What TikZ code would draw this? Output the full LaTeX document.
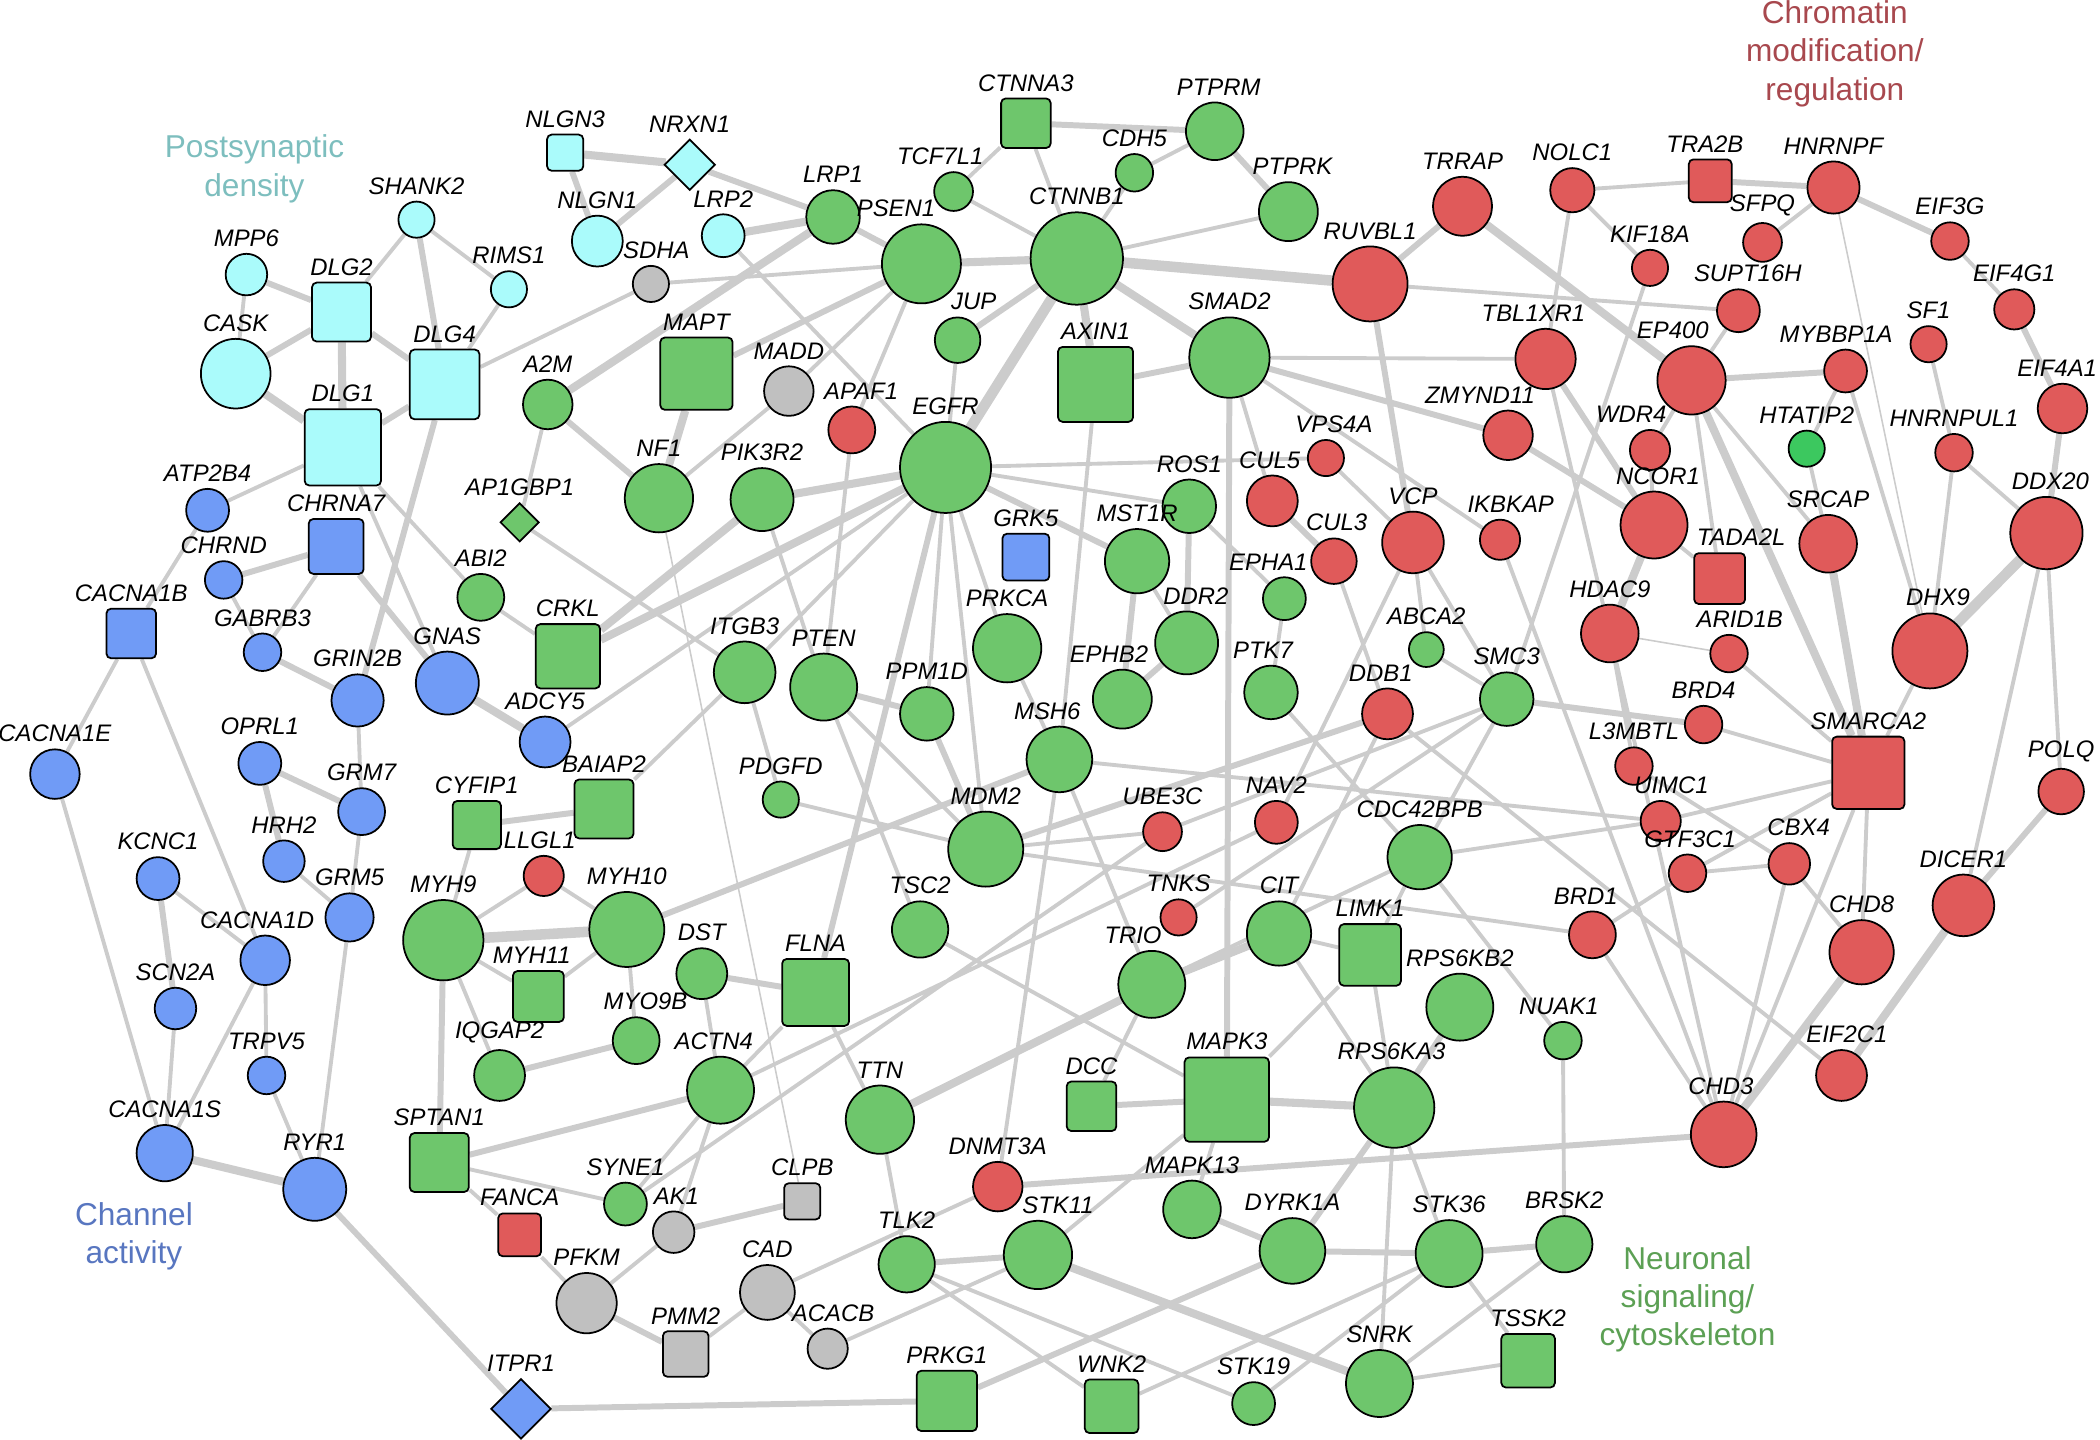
\documentclass[tikz,border=0pt]{standalone}
\usepackage{fontspec}
\setmainfont{Liberation Sans}
\usetikzlibrary{shapes.geometric}

\definecolor{cyn}{RGB}{170,251,251}
\definecolor{blu}{RGB}{112,155,246}
\definecolor{grn}{RGB}{110,198,108}
\definecolor{brg}{RGB}{60,200,95}
\definecolor{rd}{RGB}{224,90,90}
\definecolor{gry}{RGB}{192,192,192}
\definecolor{edg}{RGB}{204,204,204}
\definecolor{tpsd}{RGB}{125,190,190}
\definecolor{tchr}{RGB}{168,72,78}
\definecolor{tcha}{RGB}{88,118,192}
\definecolor{tneu}{RGB}{92,160,84}

\newcommand{\upx}{0.013393cm}
\pgfdeclarelayer{bg}
\pgfsetlayers{bg,main}

\begin{document}
\begin{tikzpicture}[x=\upx,y=-\upx,label distance=1.2pt]
\tikzstyle{gene}=[draw,line width=0.5pt,inner sep=0pt]
\tikzstyle{cir}=[gene,circle]
\tikzstyle{sqr}=[gene,rectangle,rounded corners=1.3pt]
\tikzstyle{dia}=[gene,diamond,aspect=1]
\tikzstyle{psd}=[fill=cyn]
\tikzstyle{cha}=[fill=blu]
\tikzstyle{neu}=[fill=grn]
\tikzstyle{chr}=[fill=rd]
\tikzstyle{oth}=[fill=gry]
\tikzstyle{lab}=[font=\fontsize{6.8}{8}\selectfont\itshape,inner sep=0.4pt]
\tikzstyle{grp}=[font=\fontsize{9}{10.9}\selectfont,align=center,inner sep=0pt]
\tikzstyle{e0}=[draw=edg,line width=0.45pt]
\tikzstyle{e1}=[draw=edg,line width=1.1pt]
\tikzstyle{e2}=[draw=edg,line width=1.7pt]
\tikzstyle{e3}=[draw=edg,line width=2.3pt]
\tikzstyle{e4}=[draw=edg,line width=3pt]

\useasboundingbox (0,0) rectangle (1568,1075);

% group titles
\node [grp,text=tpsd] (tpsd) at (190,126) {Postsynaptic\\density};
\node [grp,text=tchr] (tchr) at (1370,40) {Chromatin\\modification/\\regulation};
\node [grp,text=tcha] (tcha) at (100,923) {Channel\\activity};
\node [grp,text=tneu] (tneu) at (1260,970) {Neuronal\\signaling/\\cytoskeleton};

% postsynaptic density
\node [sqr,psd,minimum size=27*\upx,label={[lab]above:NLGN3}] (NLGN3) at (422,114) {};
\node [dia,psd,minimum size=38*\upx,label={[lab]above:NRXN1}] (NRXN1) at (515,123) {};
\node [cir,psd,minimum size=38*\upx,label={[lab]above:NLGN1}] (NLGN1) at (446,180) {};
\node [cir,psd,minimum size=32*\upx,label={[lab]above:LRP2}] (LRP2) at (540,176) {};
\node [cir,psd,minimum size=27*\upx,label={[lab]above:SHANK2}] (SHANK2) at (311,164) {};
\node [cir,psd,minimum size=27*\upx,label={[lab]above:RIMS1}] (RIMS1) at (380,216) {};
\node [cir,psd,minimum size=31*\upx,label={[lab]above:MPP6}] (MPP6) at (184,205) {};
\node [sqr,psd,minimum size=44*\upx,label={[lab]above:DLG2}] (DLG2) at (255,233) {};
\node [cir,psd,minimum size=52*\upx,label={[lab]above:CASK}] (CASK) at (176,279) {};
\node [sqr,psd,minimum size=52*\upx,label={[lab]above:DLG4}] (DLG4) at (332,287) {};
\node [sqr,psd,minimum size=57*\upx,label={[lab]above:DLG1}] (DLG1) at (256,334) {};

% other
\node [cir,oth,minimum size=27*\upx,label={[lab,xshift=4*\upx]above:SDHA}] (SDHA) at (486,212) {};
\node [cir,oth,minimum size=37*\upx,label={[lab]above:MADD}] (MADD) at (589,292) {};
\node [cir,oth,minimum size=31*\upx,label={[lab,xshift=2*\upx]above:AK1}] (AK1) at (503,920) {};
\node [sqr,oth,minimum size=27*\upx,label={[lab]above:CLPB}] (CLPB) at (599,897) {};
\node [cir,oth,minimum size=45*\upx,label={[lab]above:PFKM}] (PFKM) at (438,973) {};
\node [cir,oth,minimum size=41*\upx,label={[lab]above:CAD}] (CAD) at (573,965) {};
\node [sqr,oth,minimum size=34*\upx,label={[lab]above:PMM2}] (PMM2) at (512,1011) {};
\node [cir,oth,minimum size=30*\upx,label={[lab,xshift=4*\upx]above:ACACB}] (ACACB) at (618,1007) {};

% channel activity
\node [cir,cha,minimum size=32*\upx,label={[lab]above:ATP2B4}] (ATP2B4) at (155,381) {};
\node [sqr,cha,minimum size=41*\upx,label={[lab]above:CHRNA7}] (CHRNA7) at (251,408) {};
\node [cir,cha,minimum size=28*\upx,label={[lab]above:CHRND}] (CHRND) at (167,433) {};
\node [sqr,cha,minimum size=37*\upx,label={[lab]above:CACNA1B}] (CACNA1B) at (98,473) {};
\node [cir,cha,minimum size=28*\upx,label={[lab]above:GABRB3}] (GABRB3) at (196,487) {};
\node [cir,cha,minimum size=39*\upx,label={[lab]above:GRIN2B}] (GRIN2B) at (267,523) {};
\node [cir,cha,minimum size=47*\upx,label={[lab]above:GNAS}] (GNAS) at (334,510) {};
\node [cir,cha,minimum size=38*\upx,label={[lab]above:ADCY5}] (ADCY5) at (407,554) {};
\node [cir,cha,minimum size=37*\upx,label={[lab]above:CACNA1E}] (CACNA1E) at (41,578) {};
\node [cir,cha,minimum size=32*\upx,label={[lab]above:OPRL1}] (OPRL1) at (194,570) {};
\node [cir,cha,minimum size=35*\upx,label={[lab]above:GRM7}] (GRM7) at (270,606) {};
\node [cir,cha,minimum size=31*\upx,label={[lab]above:HRH2}] (HRH2) at (212,643) {};
\node [cir,cha,minimum size=32*\upx,label={[lab]above:KCNC1}] (KCNC1) at (118,656) {};
\node [cir,cha,minimum size=36*\upx,label={[lab]above:GRM5}] (GRM5) at (261,685) {};
\node [cir,cha,minimum size=37*\upx,label={[lab,xshift=-6*\upx]above:CACNA1D}] (CACNA1D) at (198,717) {};
\node [cir,cha,minimum size=31*\upx,label={[lab]above:SCN2A}] (SCN2A) at (131,753) {};
\node [cir,cha,minimum size=28*\upx,label={[lab]above:TRPV5}] (TRPV5) at (199,803) {};
\node [cir,cha,minimum size=42*\upx,label={[lab]above:CACNA1S}] (CACNA1S) at (123,861) {};
\node [cir,cha,minimum size=47*\upx,label={[lab]above:RYR1}] (RYR1) at (235,888) {};
\node [dia,cha,minimum size=45*\upx,label={[lab]above:ITPR1}] (ITPR1) at (389,1052) {};
\node [sqr,cha,minimum size=35*\upx,label={[lab]above:GRK5}] (GRK5) at (766,416) {};

% neuronal signalling / cytoskeleton
\node [sqr,neu,minimum size=37*\upx,label={[lab]above:CTNNA3}] (CTNNA3) at (766,92) {};
\node [cir,neu,minimum size=43*\upx,label={[lab,xshift=3*\upx]above:PTPRM}] (PTPRM) at (907,98) {};
\node [cir,neu,minimum size=28*\upx,label={[lab]above:CDH5}] (CDH5) at (847,129) {};
\node [cir,neu,minimum size=29*\upx,label={[lab,xshift=-10*\upx]above:TCF7L1}] (TCF7L1) at (712,143) {};
\node [cir,neu,minimum size=44*\upx,label={[lab,xshift=3*\upx]above:PTPRK}] (PTPRK) at (962,158) {};
\node [cir,neu,minimum size=40*\upx,label={[lab]above:LRP1}] (LRP1) at (622,162) {};
\node [cir,neu,minimum size=59*\upx,label={[lab,xshift=-19*\upx]above:PSEN1}] (PSEN1) at (688,197) {};
\node [cir,neu,minimum size=69*\upx,label={[lab]above:CTNNB1}] (CTNNB1) at (804,193) {};
\node [cir,neu,minimum size=34*\upx,label={[lab,xshift=12*\upx]above:JUP}] (JUP) at (715,254) {};
\node [sqr,neu,minimum size=54*\upx,label={[lab]above:MAPT}] (MAPT) at (520,279) {};
\node [cir,neu,minimum size=37*\upx,label={[lab]above:A2M}] (A2M) at (409,302) {};
\node [sqr,neu,minimum size=56*\upx,label={[lab]above:AXIN1}] (AXIN1) at (818,287) {};
\node [cir,neu,minimum size=60*\upx,label={[lab]above:SMAD2}] (SMAD2) at (918,267) {};
\node [cir,neu,minimum size=68*\upx,label={[lab]above:EGFR}] (EGFR) at (706,349) {};
\node [cir,neu,minimum size=51*\upx,label={[lab]above:NF1}] (NF1) at (492,372) {};
\node [cir,neu,minimum size=47*\upx,label={[lab]above:PIK3R2}] (PIK3R2) at (569,373) {};
\node [dia,neu,minimum size=29*\upx,label={[lab]above:AP1GBP1}] (AP1GBP1) at (388,390) {};
\node [cir,neu,minimum size=40*\upx,label={[lab]above:ROS1}] (ROS1) at (888,378) {};
\node [cir,neu,minimum size=35*\upx,label={[lab]above:ABI2}] (ABI2) at (359,446) {};
\node [sqr,neu,minimum size=48*\upx,label={[lab]above:CRKL}] (CRKL) at (424,490) {};
\node [cir,neu,minimum size=48*\upx,label={[lab]above:MST1R}] (MST1R) at (849,419) {};
\node [cir,neu,minimum size=51*\upx,label={[lab]above:PRKCA}] (PRKCA) at (752,484) {};
\node [cir,neu,minimum size=47*\upx,label={[lab,xshift=7*\upx]above:DDR2}] (DDR2) at (886,480) {};
\node [cir,neu,minimum size=32*\upx,label={[lab,xshift=-12*\upx]above:EPHA1}] (EPHA1) at (959,447) {};
\node [cir,neu,minimum size=44*\upx,label={[lab,xshift=-10*\upx]above:EPHB2}] (EPHB2) at (838,522) {};
\node [cir,neu,minimum size=40*\upx,label={[lab,xshift=-6*\upx]above:PTK7}] (PTK7) at (949,517) {};
\node [cir,neu,minimum size=46*\upx,label={[lab]above:ITGB3}] (ITGB3) at (556,502) {};
\node [cir,neu,minimum size=50*\upx,label={[lab]above:PTEN}] (PTEN) at (615,513) {};
\node [cir,neu,minimum size=40*\upx,label={[lab]above:PPM1D}] (PPM1D) at (692,533) {};
\node [cir,neu,minimum size=49*\upx,label={[lab,xshift=-9*\upx]above:MSH6}] (MSH6) at (791,567) {};
\node [cir,neu,minimum size=27*\upx,label={[lab]above:PDGFD}] (PDGFD) at (583,597) {};
\node [cir,neu,minimum size=56*\upx,label={[lab]above:MDM2}] (MDM2) at (736,634) {};
\node [sqr,neu,minimum size=36*\upx,label={[lab]above:CYFIP1}] (CYFIP1) at (356,616) {};
\node [sqr,neu,minimum size=44*\upx,label={[lab]above:BAIAP2}] (BAIAP2) at (451,604) {};
\node [cir,neu,minimum size=60*\upx,label={[lab]above:MYH9}] (MYH9) at (331,702) {};
\node [cir,neu,minimum size=56*\upx,label={[lab]above:MYH10}] (MYH10) at (468,694) {};
\node [sqr,neu,minimum size=38*\upx,label={[lab,xshift=-5*\upx]above:MYH11}] (MYH11) at (402,744) {};
\node [cir,neu,minimum size=38*\upx,label={[lab]above:DST}] (DST) at (524,727) {};
\node [sqr,neu,minimum size=50*\upx,label={[lab]above:FLNA}] (FLNA) at (609,741) {};
\node [cir,neu,minimum size=42*\upx,label={[lab]above:TSC2}] (TSC2) at (687,694) {};
\node [cir,neu,minimum size=35*\upx,label={[lab,xshift=7*\upx]above:MYO9B}] (MYO9B) at (475,777) {};
\node [cir,neu,minimum size=38*\upx,label={[lab]above:IQGAP2}] (IQGAP2) at (373,803) {};
\node [cir,neu,minimum size=50*\upx,label={[lab,xshift=-5*\upx]above:ACTN4}] (ACTN4) at (538,814) {};
\node [cir,neu,minimum size=51*\upx,label={[lab]above:TTN}] (TTN) at (657,836) {};
\node [sqr,neu,minimum size=44*\upx,label={[lab]above:SPTAN1}] (SPTAN1) at (328,868) {};
\node [cir,neu,minimum size=32*\upx,label={[lab]above:SYNE1}] (SYNE1) at (467,899) {};
\node [cir,neu,minimum size=50*\upx,label={[lab,xshift=-14*\upx]above:TRIO}] (TRIO) at (860,735) {};
\node [cir,neu,minimum size=48*\upx,label={[lab]above:CIT}] (CIT) at (955,697) {};
\node [sqr,neu,minimum size=46*\upx,label={[lab]above:LIMK1}] (LIMK1) at (1023,713) {};
\node [cir,neu,minimum size=48*\upx,label={[lab]above:CDC42BPB}] (CDC42BPB) at (1060,640) {};
\node [cir,neu,minimum size=50*\upx,label={[lab]above:RPS6KB2}] (RPS6KB2) at (1090,752) {};
\node [cir,neu,minimum size=28*\upx,label={[lab,xshift=-3*\upx]above:NUAK1}] (NUAK1) at (1167,777) {};
\node [cir,neu,minimum size=60*\upx,label={[lab,xshift=-2*\upx]above:RPS6KA3}] (RPS6KA3) at (1041,827) {};
\node [sqr,neu,minimum size=37*\upx,label={[lab]above:DCC}] (DCC) at (815,826) {};
\node [sqr,neu,minimum size=63*\upx,label={[lab]above:MAPK3}] (MAPK3) at (916,821) {};
\node [cir,neu,minimum size=43*\upx,label={[lab]above:MAPK13}] (MAPK13) at (890,903) {};
\node [cir,neu,minimum size=49*\upx,label={[lab]above:DYRK1A}] (DYRK1A) at (965,934) {};
\node [cir,neu,minimum size=50*\upx,label={[lab]above:STK36}] (STK36) at (1082,936) {};
\node [cir,neu,minimum size=42*\upx,label={[lab]above:BRSK2}] (BRSK2) at (1168,929) {};
\node [sqr,neu,minimum size=40*\upx,label={[lab]above:TSSK2}] (TSSK2) at (1141,1016) {};
\node [cir,neu,minimum size=50*\upx,label={[lab]above:SNRK}] (SNRK) at (1030,1033) {};
\node [cir,neu,minimum size=32*\upx,label={[lab]above:STK19}] (STK19) at (936,1048) {};
\node [sqr,neu,minimum size=40*\upx,label={[lab]above:WNK2}] (WNK2) at (830,1050) {};
\node [sqr,neu,minimum size=45*\upx,label={[lab]above:PRKG1}] (PRKG1) at (707,1046) {};
\node [cir,neu,minimum size=51*\upx,label={[lab,xshift=15*\upx]above:STK11}] (STK11) at (775,937) {};
\node [cir,neu,minimum size=42*\upx,label={[lab]above:TLK2}] (TLK2) at (677,944) {};
\node [cir,fill=brg,minimum size=27*\upx,label={[lab]above:HTATIP2}] (HTATIP2) at (1349,335) {};
\node [cir,neu,minimum size=26*\upx,label={[lab]above:ABCA2}] (ABCA2) at (1065,485) {};
\node [cir,neu,minimum size=40*\upx,label={[lab]above:SMC3}] (SMC3) at (1125,522) {};

% chromatin modification / regulation
\node [sqr,chr,minimum size=32*\upx,label={[lab]above:FANCA}] (FANCA) at (388,922) {};
\node [cir,chr,minimum size=30*\upx,label={[lab,xshift=-3*\upx]above:LLGL1}] (LLGL1) at (406,654) {};
\node [cir,chr,minimum size=37*\upx,label={[lab]above:DNMT3A}] (DNMT3A) at (745,886) {};
\node [cir,chr,minimum size=29*\upx,label={[lab]above:UBE3C}] (UBE3C) at (868,621) {};
\node [cir,chr,minimum size=32*\upx,label={[lab]above:NAV2}] (NAV2) at (953,614) {};
\node [cir,chr,minimum size=27*\upx,label={[lab]above:TNKS}] (TNKS) at (880,685) {};
\node [cir,chr,minimum size=35*\upx,label={[lab,xshift=7*\upx]above:APAF1}] (APAF1) at (636,321) {};
\node [cir,chr,minimum size=38*\upx,label={[lab,xshift=-2*\upx]above:CUL5}] (CUL5) at (950,374) {};
\node [cir,chr,minimum size=27*\upx,label={[lab,xshift=6*\upx]above:VPS4A}] (VPS4A) at (990,342) {};
\node [cir,chr,minimum size=34*\upx,label={[lab,xshift=2*\upx]above:CUL3}] (CUL3) at (996,419) {};
\node [cir,chr,minimum size=46*\upx,label={[lab]above:VCP}] (VCP) at (1055,405) {};
\node [cir,chr,minimum size=30*\upx,label={[lab,xshift=8*\upx]above:IKBKAP}] (IKBKAP) at (1120,403) {};
\node [cir,chr,minimum size=38*\upx,label={[lab,xshift=-5*\upx]above:DDB1}] (DDB1) at (1036,533) {};
\node [cir,chr,minimum size=56*\upx,label={[lab]above:RUVBL1}] (RUVBL1) at (1023,212) {};
\node [cir,chr,minimum size=44*\upx,label={[lab]above:TRRAP}] (TRRAP) at (1092,154) {};
\node [cir,chr,minimum size=33*\upx,label={[lab]above:NOLC1}] (NOLC1) at (1174,142) {};
\node [sqr,chr,minimum size=32*\upx,label={[lab,xshift=-4*\upx]above:TRA2B}] (TRA2B) at (1277,135) {};
\node [cir,chr,minimum size=39*\upx,label={[lab]above:HNRNPF}] (HNRNPF) at (1369,140) {};
\node [cir,chr,minimum size=29*\upx,label={[lab]above:SFPQ}] (SFPQ) at (1316,181) {};
\node [cir,chr,minimum size=27*\upx,label={[lab]above:KIF18A}] (KIF18A) at (1232,200) {};
\node [cir,chr,minimum size=28*\upx,label={[lab]above:EIF3G}] (EIF3G) at (1456,180) {};
\node [cir,chr,minimum size=32*\upx,label={[lab,xshift=7*\upx]above:SUPT16H}] (SUPT16H) at (1298,232) {};
\node [cir,chr,minimum size=30*\upx,label={[lab]above:EIF4G1}] (EIF4G1) at (1504,231) {};
\node [cir,chr,minimum size=45*\upx,label={[lab,xshift=-9*\upx]above:TBL1XR1}] (TBL1XR1) at (1154,268) {};
\node [cir,chr,minimum size=51*\upx,label={[lab,xshift=-14*\upx]above:EP400}] (EP400) at (1263,284) {};
\node [cir,chr,minimum size=27*\upx,label={[lab]above:SF1}] (SF1) at (1440,257) {};
\node [cir,chr,minimum size=32*\upx,label={[lab,xshift=-7*\upx]above:MYBBP1A}] (MYBBP1A) at (1378,277) {};
\node [cir,chr,minimum size=37*\upx,label={[lab,xshift=-4*\upx]above:EIF4A1}] (EIF4A1) at (1540,305) {};
\node [cir,chr,minimum size=37*\upx,label={[lab,xshift=-21*\upx]above:ZMYND11}] (ZMYND11) at (1126,325) {};
\node [cir,chr,minimum size=30*\upx,label={[lab,xshift=-14*\upx]above:WDR4}] (WDR4) at (1232,336) {};
\node [cir,chr,minimum size=28*\upx,label={[lab]above:HNRNPUL1}] (HNRNPUL1) at (1459,338) {};
\node [cir,chr,minimum size=50*\upx,label={[lab,xshift=3*\upx]above:NCOR1}] (NCOR1) at (1235,392) {};
\node [cir,chr,minimum size=43*\upx,label={[lab]above:SRCAP}] (SRCAP) at (1365,406) {};
\node [cir,chr,minimum size=54*\upx,label={[lab,xshift=3*\upx]above:DDX20}] (DDX20) at (1528,398) {};
\node [sqr,chr,minimum size=38*\upx,label={[lab,xshift=16*\upx]above:TADA2L}] (TADA2L) at (1284,432) {};
\node [cir,chr,minimum size=43*\upx,label={[lab]above:HDAC9}] (HDAC9) at (1202,473) {};
\node [cir,chr,minimum size=56*\upx,label={[lab,xshift=6*\upx]above:DHX9}] (DHX9) at (1441,486) {};
\node [cir,chr,minimum size=28*\upx,label={[lab,xshift=8*\upx]above:ARID1B}] (ARID1B) at (1291,488) {};
\node [cir,chr,minimum size=28*\upx,label={[lab]above:BRD4}] (BRD4) at (1272,541) {};
\node [sqr,chr,minimum size=54*\upx,label={[lab]above:SMARCA2}] (SMARCA2) at (1395,577) {};
\node [cir,chr,minimum size=28*\upx,label={[lab]above:L3MBTL}] (L3MBTL) at (1220,572) {};
\node [cir,chr,minimum size=30*\upx,label={[lab,xshift=8*\upx]above:UIMC1}] (UIMC1) at (1240,613) {};
\node [cir,chr,minimum size=34*\upx,label={[lab]above:POLQ}] (POLQ) at (1539,591) {};
\node [cir,chr,minimum size=28*\upx,label={[lab,xshift=2*\upx]above:GTF3C1}] (GTF3C1) at (1260,652) {};
\node [cir,chr,minimum size=31*\upx,label={[lab,xshift=7*\upx]above:CBX4}] (CBX4) at (1336,645) {};
\node [cir,chr,minimum size=35*\upx,label={[lab,xshift=-5*\upx]above:BRD1}] (BRD1) at (1189,698) {};
\node [cir,chr,minimum size=46*\upx,label={[lab]above:DICER1}] (DICER1) at (1466,676) {};
\node [cir,chr,minimum size=48*\upx,label={[lab]above:CHD8}] (CHD8) at (1390,711) {};
\node [cir,chr,minimum size=38*\upx,label={[lab,xshift=4*\upx]above:EIF2C1}] (EIF2C1) at (1375,803) {};
\node [cir,chr,minimum size=49*\upx,label={[lab,xshift=-2*\upx]above:CHD3}] (CHD3) at (1287,847) {};

% interactions
\begin{pgfonlayer}{bg}
\draw [e4] (CTNNB1) -- (EGFR) (CTNNB1) -- (RUVBL1) (MYH9) -- (MYH10) (DDX20) -- (DHX9);
\draw [e3] (PSEN1) -- (CTNNB1) (CTNNB1) -- (SMAD2) (CTNNB1) -- (AXIN1) (CACNA1S) -- (RYR1)
  (GNAS) -- (ADCY5) (CASK) -- (DLG1) (MAPK3) -- (RPS6KA3) (STK11) -- (SNRK)
  (PIK3R2) -- (EGFR) (CRKL) -- (EGFR) (CRKL) -- (PIK3R2) (NLGN3) -- (NRXN1)
  (LRP1) -- (LRP2) (A2M) -- (LRP1) (DICER1) -- (EIF2C1) (TRRAP) -- (EP400)
  (EP400) -- (SMARCA2) (TTN) -- (TRIO) (TRIO) -- (CIT) (MAPT) -- (NF1)
  (DLG2) -- (DLG1) (SRCAP) -- (SMARCA2) (CHD8) -- (CHD3) (NCOR1) -- (HDAC9);
\draw [e2] (NLGN3) -- (NLGN1) (NLGN1) -- (NRXN1) (NRXN1) -- (LRP1) (MPP6) -- (DLG2)
  (CASK) -- (DLG2) (DLG2) -- (DLG4) (DLG1) -- (DLG4) (DLG4) -- (GRIN2B) (SHANK2) -- (DLG4)
  (CHRNA7) -- (CHRND) (CHRNA7) -- (GNAS) (GABRB3) -- (GRIN2B) (GRM7) -- (OPRL1)
  (OPRL1) -- (HRH2) (KCNC1) -- (SCN2A) (RYR1) -- (ITPR1) (ITPR1) -- (PRKG1)
  (CTNNA3) -- (PTPRM) (PTPRM) -- (PTPRK) (LRP1) -- (PSEN1) (MAPT) -- (PSEN1)
  (CTNNB1) -- (JUP) (AXIN1) -- (SMAD2) (SMAD2) -- (ZMYND11) (SMAD2) -- (MAPK3)
  (RUVBL1) -- (TRRAP) (RUVBL1) -- (VCP) (A2M) -- (NF1) (MST1R) -- (EGFR)
  (MST1R) -- (EPHB2) (DDR2) -- (EPHB2) (ROS1) -- (DDR2) (CUL5) -- (CUL3)
  (PTEN) -- (PPM1D) (PPM1D) -- (MDM2) (MDM2) -- (DDB1) (MYH10) -- (MSH6)
  (CYFIP1) -- (BAIAP2) (SPTAN1) -- (MYH9) (SPTAN1) -- (ACTN4) (DST) -- (FLNA)
  (EGFR) -- (FLNA) (IQGAP2) -- (MYO9B) (AK1) -- (CLPB) (PFKM) -- (PMM2)
  (MAPK3) -- (DCC) (RPS6KA3) -- (RPS6KB2) (RPS6KA3) -- (DYRK1A) (DYRK1A) -- (MAPK13)
  (DYRK1A) -- (STK36) (DYRK1A) -- (PRKG1) (STK36) -- (BRSK2) (STK11) -- (TLK2)
  (DNMT3A) -- (CHD3) (TBL1XR1) -- (NCOR1) (ZMYND11) -- (NCOR1) (TRA2B) -- (HNRNPF)
  (HNRNPF) -- (EIF3G) (EIF4G1) -- (EIF4A1) (EIF4A1) -- (DDX20) (EP400) -- (MYBBP1A)
  (DICER1) -- (POLQ) (SMC3) -- (BRD4);
\draw [e1] (SHANK2) -- (DLG2) (SHANK2) -- (RIMS1) (RIMS1) -- (DLG4) (MPP6) -- (CASK)
  (DLG4) -- (SDHA) (DLG1) -- (ATP2B4) (DLG1) -- (GNAS) (SDHA) -- (PSEN1) (LRP2) -- (EGFR)
  (ATP2B4) -- (CACNA1B) (CHRNA7) -- (GABRB3) (CHRND) -- (GABRB3) (GRIN2B) -- (GRM7)
  (GRM7) -- (GRM5) (HRH2) -- (GRM5) (GRM5) -- (RYR1) (ADCY5) -- (EGFR)
  (CACNA1B) -- (CACNA1E) (CACNA1B) -- (CACNA1D) (CACNA1E) -- (CACNA1S) (KCNC1) -- (CACNA1D)
  (SCN2A) -- (CACNA1S) (CACNA1D) -- (CACNA1S) (CACNA1D) -- (TRPV5) (TRPV5) -- (RYR1)
  (DLG1) -- (ABI2) (ABI2) -- (CRKL) (A2M) -- (AP1GBP1) (AP1GBP1) -- (ITGB3)
  (NF1) -- (MADD) (MADD) -- (PSEN1) (PSEN1) -- (APAF1) (APAF1) -- (PTEN) (PIK3R2) -- (PTEN)
  (CTNNA3) -- (TCF7L1) (CTNNA3) -- (CTNNB1) (CDH5) -- (PTPRM) (CDH5) -- (CTNNB1)
  (PTPRK) -- (CTNNB1) (TCF7L1) -- (CTNNB1) (JUP) -- (EGFR)
  (SMAD2) -- (TBL1XR1) (SMAD2) -- (CUL5) (SMAD2) -- (IKBKAP) (AXIN1) -- (MSH6) (MSH6) -- (DNMT3A)
  (EGFR) -- (ROS1) (EGFR) -- (VPS4A) (EGFR) -- (PRKCA) (EGFR) -- (MDM2) (EGFR) -- (ITGB3)
  (EGFR) -- (PPM1D) (ROS1) -- (EPHA1) (MST1R) -- (DDR2) (EPHA1) -- (PTK7) (PTK7) -- (CDC42BPB)
  (VPS4A) -- (VCP) (CUL3) -- (DDB1) (VCP) -- (ABCA2) (VCP) -- (SMC3) (VCP) -- (NAV2)
  (IKBKAP) -- (CHD3) (KIF18A) -- (SMC3)
  (ITGB3) -- (BAIAP2) (ITGB3) -- (PDGFD) (PTEN) -- (MDM2) (PTEN) -- (TSC2) (PDGFD) -- (MDM2)
  (MDM2) -- (UBE3C) (MDM2) -- (BRD1) (MSH6) -- (PRKCA) (MSH6) -- (UIMC1) (MSH6) -- (TRIO)
  (TSC2) -- (MAPK3) (FLNA) -- (TTN) (FLNA) -- (ACTN4) (TTN) -- (TLK2) (DNMT3A) -- (CAD)
  (STK11) -- (MAPK3) (STK11) -- (ACACB) (TLK2) -- (WNK2) (TLK2) -- (STK19) (WNK2) -- (STK36)
  (STK19) -- (STK36) (SNRK) -- (TSSK2) (SNRK) -- (BRSK2) (SNRK) -- (RPS6KA3) (STK36) -- (TSSK2)
  (STK36) -- (RPS6KA3) (BRSK2) -- (NUAK1) (MAPK13) -- (MAPK3) (MAPK3) -- (LIMK1) (DCC) -- (TRIO)
  (RPS6KA3) -- (LIMK1) (RPS6KA3) -- (CIT) (LIMK1) -- (CIT) (LIMK1) -- (CDC42BPB) (CIT) -- (DDB1)
  (CDC42BPB) -- (TRIO) (CDC42BPB) -- (NUAK1) (SMC3) -- (TNKS) (SMC3) -- (CDC42BPB)
  (SMC3) -- (ABCA2) (UBE3C) -- (SMC3)
  (CYFIP1) -- (MYH9) (LLGL1) -- (MYH9) (LLGL1) -- (MYH10) (MYH9) -- (MYH11) (MYH9) -- (IQGAP2)
  (MYH10) -- (MYH11) (MYH10) -- (MYO9B) (DST) -- (ACTN4) (ACTN4) -- (SYNE1) (ACTN4) -- (AK1)
  (ACTN4) -- (NAV2) (SYNE1) -- (UBE3C) (SPTAN1) -- (SYNE1) (SPTAN1) -- (FANCA) (FANCA) -- (PFKM)
  (AK1) -- (PFKM) (PMM2) -- (CAD) (CAD) -- (ACACB)
  (RUVBL1) -- (SUPT16H) (NOLC1) -- (TRA2B) (NOLC1) -- (KIF18A) (NOLC1) -- (TBL1XR1)
  (TBL1XR1) -- (HDAC9) (HDAC9) -- (CHD3) (SFPQ) -- (HNRNPF) (EIF3G) -- (EIF4G1)
  (SUPT16H) -- (EP400) (EP400) -- (WDR4) (WDR4) -- (NCOR1) (EP400) -- (TADA2L) (EP400) -- (SRCAP)
  (NCOR1) -- (TADA2L) (SF1) -- (HNRNPUL1) (MYBBP1A) -- (HTATIP2) (MYBBP1A) -- (DHX9)
  (HTATIP2) -- (SRCAP) (HNRNPUL1) -- (DDX20) (HNRNPUL1) -- (DHX9) (DDX20) -- (POLQ) (DDX20) -- (DICER1)
  (HDAC9) -- (L3MBTL) (L3MBTL) -- (CBX4) (UIMC1) -- (CDC42BPB) (UIMC1) -- (SMARCA2)
  (GTF3C1) -- (BRD1) (GTF3C1) -- (CBX4) (GTF3C1) -- (SMARCA2) (CBX4) -- (CHD8) (CBX4) -- (CHD3)
  (CHD8) -- (SMARCA2) (DHX9) -- (SMARCA2) (ARID1B) -- (SMARCA2) (BRD4) -- (SMARCA2)
  (SMARCA2) -- (CHD3) (BRD1) -- (CHD3) (DDB1) -- (EIF2C1);
\draw [e0] (NF1) -- (CLPB) (HNRNPF) -- (DHX9) (HDAC9) -- (ARID1B);
\end{pgfonlayer}
\end{tikzpicture}
\end{document}
